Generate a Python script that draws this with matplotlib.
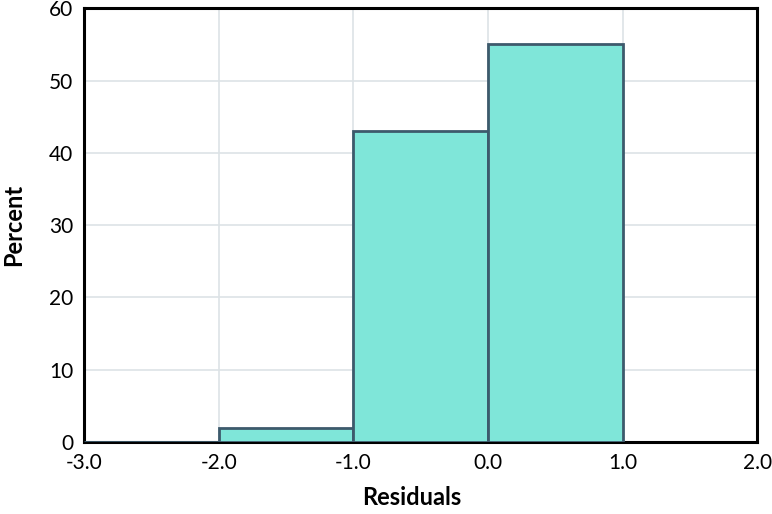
import matplotlib
matplotlib.use("Agg")
import matplotlib.pyplot as plt

bin_edges = [-3.0, -2.0, -1.0, 0.0, 1.0]
percents = [0, 2, 43, 55]
xticks = [-3.0, -2.0, -1.0, 0.0, 1.0, 2.0]
yticks = [0, 10, 20, 30, 40, 50, 60]

plt.rcParams['font.family'] = ['Lato', 'DejaVu Sans']

fig = plt.figure(figsize=(7.72, 5.14), dpi=100)
ax = fig.add_axes([0.109, 0.140, 0.872, 0.844])

lefts = bin_edges[:-1]
widths = [b - a for a, b in zip(bin_edges[:-1], bin_edges[1:])]
ax.bar(lefts, percents, width=widths, align='edge', color='#7fe6d9',
       edgecolor='#3d5a6c', linewidth=2, zorder=3)

ax.set_xlim(-3, 2)
ax.set_ylim(0, 60)
ax.set_xticks(xticks)
ax.set_xticklabels([f"{t:.1f}" for t in xticks])
ax.set_yticks(yticks)
ax.tick_params(length=0, labelsize=15, pad=8)
ax.grid(True, color='#dde3e6', linewidth=1.2, zorder=0)
for s in ax.spines.values():
    s.set_linewidth(2.2)
    s.set_color('black')

ax.set_xlabel('Residuals', fontsize=17, fontweight='bold', va='center')
ax.set_ylabel('Percent', fontsize=17, fontweight='bold', va='center')
ax.xaxis.set_label_coords(0.487, -0.128)
ax.yaxis.set_label_coords(-0.105, 0.5)

fig.savefig('out.png', dpi=100)
